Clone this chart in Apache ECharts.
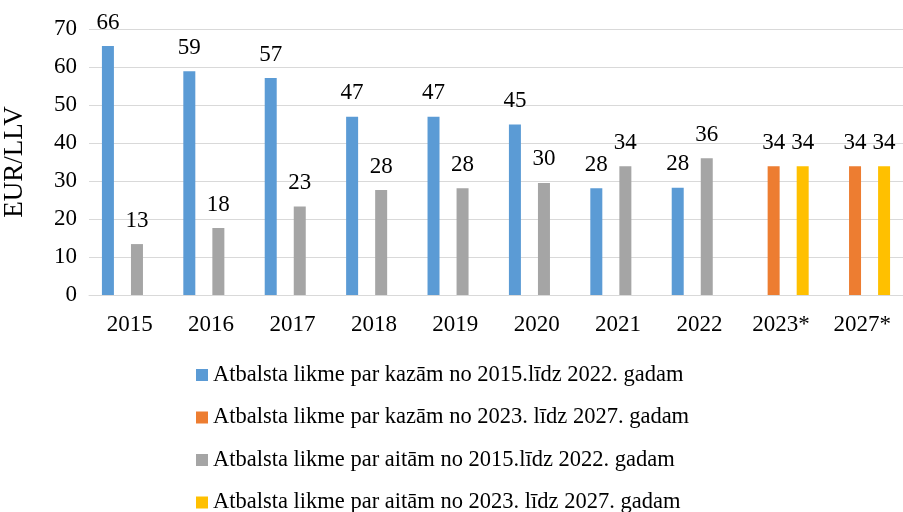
<!DOCTYPE html>
<html>
<head>
<meta charset="utf-8">
<script src="https://cdn.jsdelivr.net/npm/echarts@6/dist/echarts.min.js"></script>
<style>
  html, body { margin: 0; padding: 0; background: #fff; }
  #chart { width: 903px; height: 512px; }
</style>
</head>
<body>
<div id="chart"></div>
<script>
// categories and values
const years = ['2015', '2016', '2017', '2018', '2019', '2020', '2021', '2022', '2023*', '2027*'];
const kazas1522 = [65.5, 58.9, 57.1, 46.9, 46.9, 44.9, 28.1, 28.2, '-', '-'];
const kazas2327 = ['-', '-', '-', '-', '-', '-', '-', '-', 33.9, 33.9];
const aitas1522 = [13.4, 17.6, 23.3, 27.6, 28.1, 29.5, 33.9, 36.0, '-', '-'];
const aitas2327 = ['-', '-', '-', '-', '-', '-', '-', '-', 33.9, 33.9];

const seriesNames = [
  'Atbalsta likme par kazām no 2015.līdz 2022. gadam',
  'Atbalsta likme par kazām no 2023. līdz 2027. gadam',
  'Atbalsta likme par aitām no 2015.līdz 2022. gadam',
  'Atbalsta likme par aitām no 2023. līdz 2027. gadam'
];
const colors = ['#5B9BD5', '#ED7D31', '#A5A5A5', '#FFC000'];
const font = '"Liberation Serif", "Times New Roman", serif';

let chart = echarts.init(document.getElementById('chart'));

function bar(name, data, color) {
  return {
    name: name,
    type: 'bar',
    data: data,
    barWidth: 12,
    barGap: '21%',
    itemStyle: { color: color },
    label: {
      show: true,
      position: 'top',
      distance: 12,
      color: '#000',
      fontFamily: font,
      fontSize: 23,
      formatter: p => Math.round(p.value)
    }
  };
}

let option = {
  animation: false,
  backgroundColor: '#fff',
  color: colors,
  grid: { left: 89, right: 0, top: 29, bottom: 217, containLabel: false, outerBoundsMode: 'none' },
  legend: {
    orient: 'vertical',
    left: 196,
    top: 363,
    height: 170,
    padding: 0,
    itemWidth: 12,
    itemHeight: 12,
    itemGap: 18.5,
    icon: 'rect',
    textStyle: { fontFamily: font, fontSize: 22.5, color: '#000', lineHeight: 24 },
    data: seriesNames
  },
  xAxis: {
    type: 'category',
    data: years,
    axisLine: { lineStyle: { color: '#D9D9D9' } },
    axisTick: { show: false },
    axisLabel: { fontFamily: font, fontSize: 23, color: '#000', margin: 18 }
  },
  yAxis: {
    type: 'value',
    min: 0,
    max: 70,
    interval: 10,
    name: 'EUR/LLV',
    nameLocation: 'middle',
    nameGap: 61,
    nameTextStyle: { fontFamily: font, fontSize: 27, color: '#000' },
    axisLine: { show: false },
    axisTick: { show: false },
    axisLabel: { fontFamily: font, fontSize: 23, color: '#000', margin: 12 },
    splitLine: { lineStyle: { color: '#D9D9D9' } }
  },
  series: [
    bar(seriesNames[0], kazas1522, colors[0]),
    bar(seriesNames[1], kazas2327, colors[1]),
    bar(seriesNames[2], aitas1522, colors[2]),
    bar(seriesNames[3], aitas2327, colors[3])
  ]
};

option && chart.setOption(option);
</script>
</body>
</html>
